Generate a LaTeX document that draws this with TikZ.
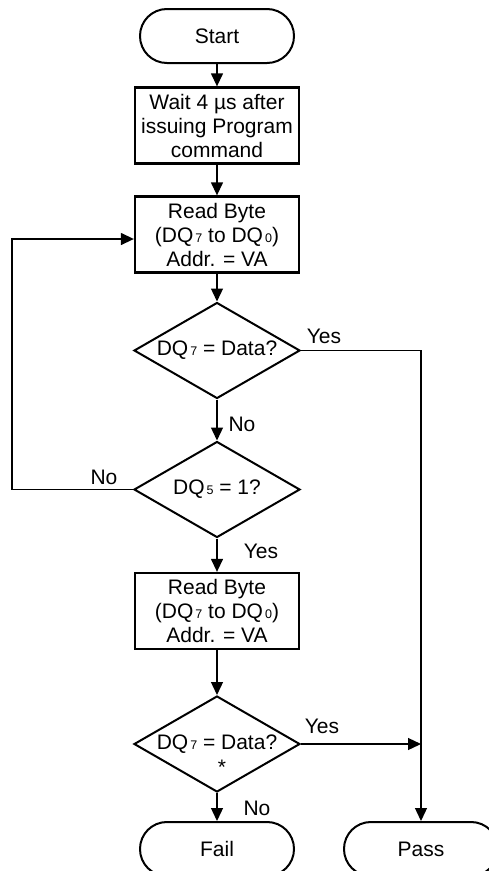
\documentclass[tikz,border=0pt]{standalone}
\usepackage{fontspec}
\setmainfont{Liberation Sans}
\usetikzlibrary{shapes.geometric,arrows.meta}
\newcommand\dqsub[1]{\kern2pt{\fontsize{12.5}{12.5}\selectfont #1}}
\begin{document}
\begin{tikzpicture}[x=1pt,y=-1pt,
  font=\fontsize{21}{24}\selectfont,
  term/.style={draw,line width=2pt,rounded corners=26.9pt,minimum width=154pt,minimum height=54pt,inner sep=0pt},
  proc/.style={draw,line width=2.3pt,align=center,minimum width=164pt,minimum height=76pt,inner sep=0pt},
  dec/.style={draw,diamond,line width=2pt,minimum width=166pt,minimum height=96pt,inner sep=0pt},
  txt/.style={inner sep=0pt,align=center},
  conn/.style={line width=1.3pt},
  arr/.style={conn,-{Triangle[length=13pt,width=12pt]}},
  lbl/.style={inner sep=0pt,anchor=base}]
\useasboundingbox (0,0) rectangle (489,871);
\clip (0,0) rectangle (489,871);
% nodes
\node[term] (start) at (217,36) {Start};
\node[proc] (wait) at (217,125.5) {Wait 4 µs after\\issuing Program\\command};
\node[proc] (read1) at (217,234.5) {Read Byte\\(DQ\dqsub{7} to DQ\dqsub{0})\\Addr. = VA};
\node[dec] (d1) at (217,350.5) {};
\node[txt] (d1t) at (d1) {DQ\dqsub{7} = Data?};
\node[dec] (d2) at (217,489.5) {};
\node[txt] (d2t) at (d2) {DQ\dqsub{5} = 1?};
\node[proc] (read2) at (217,611) {Read Byte\\(DQ\dqsub{7} to DQ\dqsub{0})\\Addr. = VA};
\node[dec] (d3) at (217,744) {};
\node[txt] (d3t) at (d3) {DQ\dqsub{7} = Data?};
\node[txt] (star) at (222,767.5) {*};
\node[term] (fail) at (217,849) {Fail};
\node[term] (pass) at (421,849) {Pass};
% labels
\node[lbl] (y1) at (324,343) {Yes};
\node[lbl] (n1) at (242,431) {No};
\node[lbl] (n2) at (104,484) {No};
\node[lbl] (y2) at (261,558) {Yes};
\node[lbl] (y3) at (322,733) {Yes};
\node[lbl] (n3) at (257,815) {No};
% connectors
\coordinate (lp) at (12,489.5);
\coordinate (ly) at (0,239);
\draw[arr] (start) -- (wait);
\draw[arr] (wait) -- (read1);
\draw[arr] (read1) -- (d1);
\draw[arr] (d1) -- (d2);
\draw[arr] (d2) -- (read2);
\draw[arr] (read2) -- (d3);
\draw[arr] (d3) -- (fail);
\draw[arr] (d2.west) -- (lp) |- (read1.west |- ly);
\draw[arr] (d1.east) -| (pass.north);
\draw[arr] (d3.east) -- (d3.east -| pass.north);
\end{tikzpicture}
\end{document}
